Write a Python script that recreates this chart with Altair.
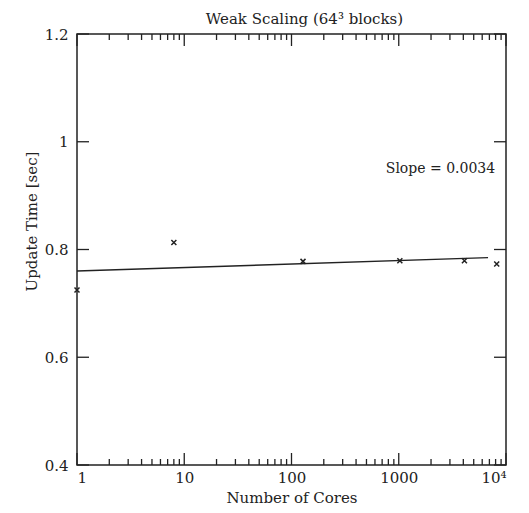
import altair as alt
import pandas as pd

# measured points
cores = [1, 8, 128, 1024, 4096, 8192]
update_time = [0.725, 0.813, 0.778, 0.779, 0.779, 0.773]

# fitted line end points
fit_cores = [1, 6800]
fit_time = [0.760, 0.785]

# annotation
note_cores = [2450]
note_time = [0.950]
note_text = ["Slope = 0.0034"]

# ticks
x_major = [1, 10, 100, 1000, 10000]
x_minor = [2, 3, 4, 5, 6, 7, 8, 9,
           20, 30, 40, 50, 60, 70, 80, 90,
           200, 300, 400, 500, 600, 700, 800, 900,
           2000, 3000, 4000, 5000, 6000, 7000, 8000, 9000]
y_major = [0.4, 0.6, 0.8, 1.0, 1.2]

W, H = 429, 431
FONT = "DejaVu Serif"
INK = "#222222"

x_scale = alt.Scale(type="log", domain=[1, 10000], nice=False)
y_scale = alt.Scale(domain=[0.4, 1.2], nice=False, zero=False)


def X():
    return alt.X(
        "cores:Q", scale=x_scale, title="Number of Cores",
        axis=alt.Axis(values=x_major, ticks=False, domain=False, grid=False,
                      labelPadding=5,
                      labelFont=FONT, labelFontSize=15, labelColor=INK,
                      titleFont=FONT, titleFontSize=15, titleFontWeight="normal",
                      titleColor=INK,
                      labelExpr="datum.value == 10000 ? '10⁴' : format(datum.value, 'd')",
                      titleY=40, titleBaseline="bottom"))


def Y():
    return alt.Y(
        "time:Q", scale=y_scale, title="Update Time [sec]",
        axis=alt.Axis(values=y_major, ticks=False, domain=False, grid=False,
                      labelPadding=9,
                      labelFont=FONT, labelFontSize=15, labelColor=INK,
                      titleFont=FONT, titleFontSize=15, titleFontWeight="normal",
                      titleColor=INK,
                      labelExpr="format(datum.value, '.1~f')",
                      titleX=-46, titleY=187, titleAngle=-90,
                      titleAlign="center", titleBaseline="middle"))


pts_df = pd.DataFrame({"cores": cores, "time": update_time})
fit_df = pd.DataFrame({"cores": fit_cores, "time": fit_time})
note_df = pd.DataFrame({"cores": note_cores, "time": note_time, "label": note_text})
xmaj_df = pd.DataFrame({"cores": x_major})
xmin_df = pd.DataFrame({"cores": x_minor})
ymaj_df = pd.DataFrame({"time": y_major})

points = alt.Chart(pts_df).mark_point(
    shape="M-1,-1L1,1M-1,1L1,-1", size=25, filled=False,
    stroke=INK, strokeWidth=1.5, opacity=1
).encode(x=X(), y=Y())

fit = alt.Chart(fit_df).mark_line(color=INK, strokeWidth=1.4).encode(x=X(), y=Y())

note = alt.Chart(note_df).mark_text(
    font=FONT, fontSize=14, color=INK, align="center", baseline="middle"
).encode(x=X(), y=Y(), text="label:N")

rule_style = dict(color=INK, strokeWidth=1.3)
xb_major = alt.Chart(xmaj_df).mark_rule(**rule_style).encode(
    x=X(), y=alt.value(H), y2=alt.value(H - 12))
xb_minor = alt.Chart(xmin_df).mark_rule(**rule_style).encode(
    x=X(), y=alt.value(H), y2=alt.value(H - 6))
xt_major = alt.Chart(xmaj_df).mark_rule(**rule_style).encode(
    x=X(), y=alt.value(0), y2=alt.value(12))
xt_minor = alt.Chart(xmin_df).mark_rule(**rule_style).encode(
    x=X(), y=alt.value(0), y2=alt.value(6))
yl_major = alt.Chart(ymaj_df).mark_rule(**rule_style).encode(
    y=Y(), x=alt.value(0), x2=alt.value(12))
yr_major = alt.Chart(ymaj_df).mark_rule(**rule_style).encode(
    y=Y(), x=alt.value(W), x2=alt.value(W - 12))

chart = alt.layer(
    xb_major, xb_minor, xt_major, xt_minor, yl_major, yr_major, fit, points, note
).properties(
    width=W, height=H,
    background="white",
    autosize=alt.AutoSizeParams(type="none"),
    padding={"left": 69, "top": 26, "right": 15, "bottom": 40},
    title=alt.TitleParams("Weak Scaling (64³ blocks)", font=FONT, fontSize=15,
                          fontWeight="normal", color=INK, anchor="middle",
                          dx=13, offset=0),
).configure_view(
    stroke=INK, strokeWidth=1.5
)

chart.save("out.html", embed_options={"renderer": "svg", "actions": False})
